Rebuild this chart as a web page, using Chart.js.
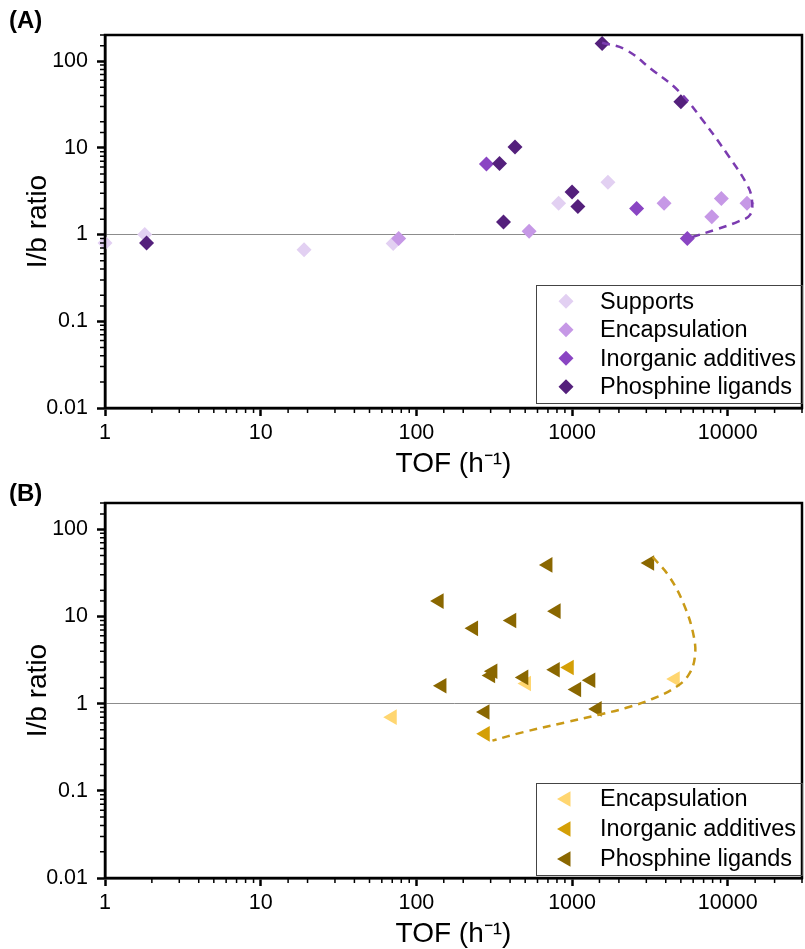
<!DOCTYPE html>
<html>
<head>
<meta charset="utf-8">
<script src="https://cdn.jsdelivr.net/npm/chart.js@4/dist/chart.umd.min.js"></script>
<style>
body { margin: 0; background: #fff; width: 805px; height: 949px; position: relative; overflow: hidden; }
canvas { position: absolute; left: 0; }
</style>
</head>
<body>
<canvas id="chartA" width="805" height="490" style="top:0px"></canvas>
<canvas id="chartB" width="805" height="479" style="top:470px"></canvas>
<script>
// ---- panel A : diamonds ----
var supportsTofA   = [1, 1.8, 19, 71, 820, 1700];
var supportsRatioA = [0.8, 1.0, 0.67, 0.79, 2.3, 4.0];
var encapTofA      = [77, 530, 3900, 7900, 9100, 13300];
var encapRatioA    = [0.9, 1.09, 2.3, 1.6, 2.6, 2.3];
var inorgTofA      = [282, 2600, 5500];
var inorgRatioA    = [6.5, 2.0, 0.9];
var phosTofA       = [1.85, 342, 363, 430, 1000, 1090, 1560, 5000];
var phosRatioA     = [0.8, 6.6, 1.4, 10.2, 3.1, 2.1, 160, 34];
// dashed guide line A
var trendTofA   = [1560, 2200, 3250, 4850, 6850, 10150, 13300, 14300, 13950, 11750, 8350, 5500];
var trendRatioA = [163, 136, 80, 45, 21.2, 8.0, 3.77, 2.53, 1.70, 1.42, 1.14, 0.9];

// ---- panel B : triangles ----
var encapTofB   = [70, 510, 4600];
var encapRatioB = [0.7, 1.7, 1.92];
var inorgTofB   = [277, 960];
var inorgRatioB = [0.45, 2.6];
var phosTofB    = [140, 146, 233, 276, 300, 310, 410, 490, 700, 780, 790, 1070, 1320, 1450, 3150];
var phosRatioB  = [15, 1.6, 7.3, 0.8, 2.1, 2.35, 9, 2.0, 39, 2.45, 11.5, 1.45, 1.85, 0.87, 41];
var trendTofB   = [3300, 4190, 5230, 6050, 6140, 5620, 4730, 3270, 2210, 1490, 910, 480, 308];
var trendRatioB = [48, 29, 13.7, 5.94, 3.35, 2.15, 1.58, 1.13, 0.89, 0.747, 0.61, 0.468, 0.376];

var xTicksMajor = [1, 10, 100, 1000, 10000];
var yTicksMajor = [0.01, 0.1, 1, 10, 100];

var FONT = "'Liberation Sans', Arial, sans-serif";

function pts(xs, ys) {
    return xs.map(function (x, i) { return {x: x, y: ys[i]}; });
}

function isMajor(v) {
    var l = Math.log10(v);
    return Math.abs(l - Math.round(l)) < 1e-6;
}

function markerSet(label, xs, ys, color, style, rot, radius, order) {
    return {
        label: label,
        data: pts(xs, ys),
        backgroundColor: color,
        borderWidth: 0,
        pointStyle: style,
        rotation: rot,
        pointRadius: radius,
        pointHoverRadius: radius,
        order: order,
        clip: false
    };
}

function trendSet(xs, ys, color) {
    return {
        label: 'trend',
        data: pts(xs, ys),
        showLine: true,
        borderColor: color,
        borderWidth: 2.5,
        borderDash: [8, 6],
        pointRadius: 0,
        tension: 0.4,
        fill: false,
        order: 0,
        clip: false
    };
}

// frame, short minor ticks, panel letter and boxed legend
var decor = {
    id: 'decor',
    afterDraw: function (chart) {
        var ctx = chart.ctx, a = chart.chartArea, o = chart.options.plugins.decor;
        ctx.save();
        ctx.strokeStyle = '#000';
        ctx.lineWidth = 2.5;
        ctx.strokeRect(a.left, a.top, a.right - a.left, a.bottom - a.top);

        ctx.lineWidth = 1.5;
        ctx.beginPath();
        chart.scales.x.ticks.forEach(function (t) {
            if (isMajor(t.value)) return;
            var px = chart.scales.x.getPixelForValue(t.value);
            ctx.moveTo(px, a.bottom); ctx.lineTo(px, a.bottom + 5);
        });
        chart.scales.y.ticks.forEach(function (t) {
            if (isMajor(t.value)) return;
            var py = chart.scales.y.getPixelForValue(t.value);
            ctx.moveTo(a.left, py); ctx.lineTo(a.left - 5, py);
        });
        ctx.stroke();

        ctx.fillStyle = '#000';
        ctx.font = 'bold 24px ' + FONT;
        ctx.textBaseline = 'alphabetic';
        ctx.textAlign = 'left';
        ctx.fillText(o.letter, 9, o.letterY);

        // legend box
        var items = chart.data.datasets.filter(function (d) { return d.label !== 'trend'; });
        items.sort(function (p, q) { return q.order - p.order; });
        var rowH = o.rowH, w = 266;
        var h = items.length * rowH + o.boxPad;
        var bx = a.right - w, by = a.bottom - o.boxBottom - h;
        ctx.lineWidth = 1;
        ctx.strokeStyle = '#444';
        ctx.strokeRect(bx + 0.5, by + 0.5, w, h);
        ctx.font = '23.5px ' + FONT;
        ctx.textBaseline = 'middle';
        items.forEach(function (d, i) {
            var cy = by + o.boxPad / 2 + rowH * (i + 0.5);
            ctx.fillStyle = d.backgroundColor;
            Chart.helpers.drawPoint(ctx, {pointStyle: d.pointStyle, rotation: d.rotation, radius: d.pointRadius, borderWidth: 0}, bx + 30, cy);
            ctx.fillStyle = '#000';
            ctx.fillText(d.label, bx + 64, cy + 1);
        });
        ctx.restore();
    }
};

function makeChart(id, datasets, opt) {
    return new Chart(document.getElementById(id), {
        type: 'scatter',
        data: {datasets: datasets},
        options: {
            responsive: false,
            animation: false,
            layout: {autoPadding: false, padding: {top: opt.top, right: 3, left: 0, bottom: 0}},
            plugins: {
                legend: {display: false},
                tooltip: {enabled: false},
                decor: opt
            },
            scales: {
                x: {
                    type: 'logarithmic',
                    min: 1, max: 30000,
                    afterFit: function (s) { s.height = opt.xh; s.paddingLeft = 0; s.paddingRight = 0; },
                    border: {display: true, color: '#000', width: 2.5},
                    grid: {
                        drawOnChartArea: false,
                        tickLength: 8,
                        tickWidth: 2.5,
                        tickColor: function (c) { return c.tick && isMajor(c.tick.value) ? '#000' : 'rgba(0,0,0,0)'; }
                    },
                    ticks: {
                        autoSkip: false, maxRotation: 0, padding: 4,
                        color: '#000',
                        font: {family: FONT, size: 21.5},
                        callback: function (v) { return xTicksMajor.indexOf(v) >= 0 ? String(v) : ''; }
                    },
                    title: {
                        display: true, text: 'TOF (h\u207B\u00B9)', color: '#000',
                        font: {family: FONT, size: 28, lineHeight: 1}, padding: {top: 0, bottom: opt.xtPad}
                    }
                },
                y: {
                    type: 'logarithmic',
                    min: 0.01, max: 200,
                    afterFit: function (s) { s.width = 105; s.paddingTop = 0; s.paddingBottom = 0; },
                    border: {display: true, color: '#000', width: 2.5},
                    grid: {
                        drawOnChartArea: true,
                        color: function (c) { return c.tick && c.tick.value === 1 ? '#8c8c8c' : 'rgba(0,0,0,0)'; },
                        lineWidth: 1,
                        tickLength: 8,
                        tickWidth: 2.5,
                        tickColor: function (c) { return c.tick && isMajor(c.tick.value) ? '#000' : 'rgba(0,0,0,0)'; }
                    },
                    ticks: {
                        autoSkip: false, padding: 9,
                        color: '#000',
                        font: {family: FONT, size: 21.5},
                        callback: function (v) { return yTicksMajor.indexOf(v) >= 0 ? String(v) : ''; }
                    },
                    title: {
                        display: true, text: 'I/b ratio', color: '#000',
                        font: {family: FONT, size: 28, lineHeight: 1}, padding: {top: 24, bottom: 0}
                    }
                }
            }
        },
        plugins: [decor]
    });
}

makeChart('chartA', [
    trendSet(trendTofA, trendRatioA, '#7b3bb0'),
    markerSet('Phosphine ligands', phosTofA, phosRatioA, '#54207c', 'rectRot', 0, 7.5, 1),
    markerSet('Inorganic additives', inorgTofA, inorgRatioA, '#8a45c3', 'rectRot', 0, 7.5, 2),
    markerSet('Encapsulation', encapTofA, encapRatioA, '#c698e6', 'rectRot', 0, 7.5, 3),
    markerSet('Supports', supportsTofA, supportsRatioA, '#e2d0f2', 'rectRot', 0, 7.5, 4)
], {top: 35, xh: 82, xtPad: 12, letter: '(A)', letterY: 28, rowH: 28.5, boxPad: 4, boxBottom: 5});

makeChart('chartB', [
    trendSet(trendTofB, trendRatioB, '#c99a17'),
    markerSet('Phosphine ligands', phosTofB, phosRatioB, '#8a6700', 'triangle', -90, 9, 1),
    markerSet('Inorganic additives', inorgTofB, inorgRatioB, '#d49f06', 'triangle', -90, 9, 2),
    markerSet('Encapsulation', encapTofB, encapRatioB, '#ffd670', 'triangle', -90, 9, 3)
], {top: 33, xh: 71, xtPad: 1, letter: '(B)', letterY: 31, rowH: 30, boxPad: 2, boxBottom: 3});
</script>
</body>
</html>
